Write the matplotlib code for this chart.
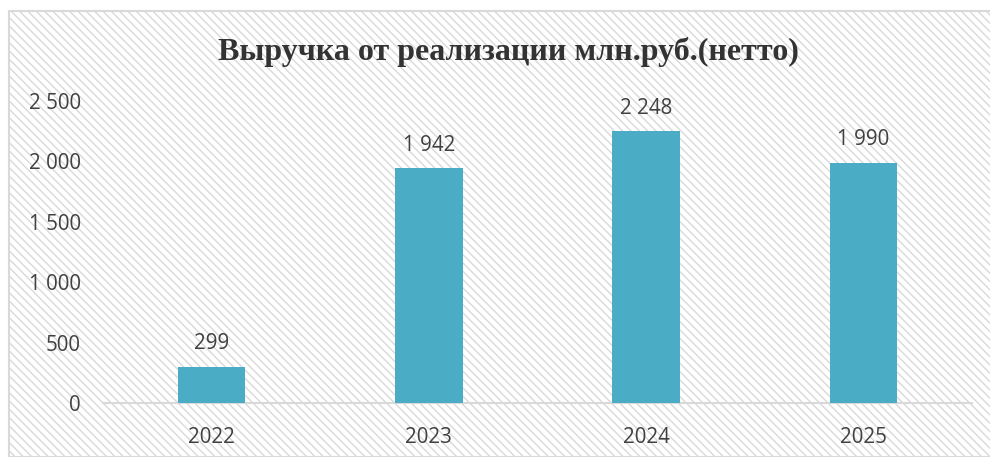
import matplotlib.pyplot as plt
from matplotlib.patches import Rectangle

years = ['2022', '2023', '2024', '2025']
revenue = [299, 1942, 2248, 1990]
yticks = [0, 500, 1000, 1500, 2000, 2500]
title = 'Выручка от реализации млн.руб.(нетто)'

plt.rcParams['font.family'] = ['Open Sans', 'DejaVu Sans']
plt.rcParams['hatch.color'] = '#f6f6f6'
plt.rcParams['hatch.linewidth'] = 1.0

W, H = 990, 457
fig = plt.figure(figsize=(W / 100, H / 100), dpi=100)
fig.patch.set_facecolor('white')

# рамка области диаграммы со штриховкой
frame = Rectangle((9 / W, 0), 1.0, 1 - 11 / H, transform=fig.transFigure,
                  facecolor='white', edgecolor='#d9d9d9', lw=1.5,
                  hatch='\\\\\\\\', zorder=-5)
fig.patches.append(frame)

ax = fig.add_axes([103 / W, 1 - 403 / H, (972 - 103) / W, (403 - 101) / H])
ax.patch.set_alpha(0)
ax.set_zorder(2)

x = range(len(years))
ax.bar(x, revenue, width=0.31, color='#4bacc6', zorder=3)
for xi, v in zip(x, revenue):
    ax.text(xi, v + 105, f'{v:,}'.replace(',', ' '), ha='center', va='bottom',
            fontsize=14.8, color='#404040')

ax.set_xlim(-0.5, len(years) - 0.5)
ax.set_ylim(0, 2500)
ax.set_yticks(yticks)
ax.set_yticklabels([f'{t:,}'.replace(',', ' ') for t in yticks])
ax.set_xticks(list(x))
ax.set_xticklabels(years)
ax.tick_params(axis='both', length=0, labelsize=14.8, labelcolor='#404040')
ax.tick_params(axis='y', pad=16)
ax.tick_params(axis='x', pad=17)

for s in ['top', 'right', 'left']:
    ax.spines[s].set_visible(False)
ax.spines['bottom'].set_color('#d9d9d9')
ax.spines['bottom'].set_linewidth(1.5)

fig.text(508 / W, 1 - 52 / H, title, ha='center', va='center',
         fontsize=23, fontweight='bold', color='#333333',
         family=['Liberation Serif', 'DejaVu Serif'])

fig.savefig('out.png', dpi=100)
